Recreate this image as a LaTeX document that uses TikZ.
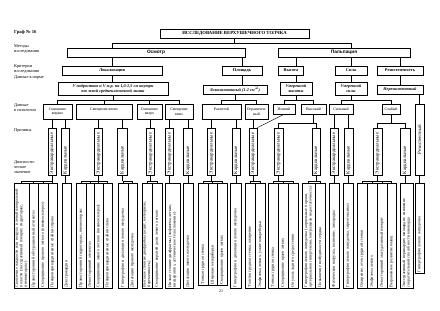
\documentclass[tikz,border=0pt]{standalone}
\usepackage{fontspec}
\setmainfont{Liberation Serif}
\setsansfont{Liberation Sans}
\tikzset{
  titlebox/.style={draw,line width=0.7pt,fill=white,inner sep=0pt,align=center,
    font=\fontsize{4.7}{5.2}\selectfont\bfseries},
  methodbox/.style={titlebox,font=\sffamily\fontsize{4.8}{5.4}\selectfont\bfseries},
  critbox/.style={titlebox,font=\fontsize{4.3}{4.8}\selectfont\bfseries},
  normbox/.style={titlebox,font=\fontsize{4.2}{5}\selectfont\bfseries\itshape},
  pathbox/.style={draw,line width=0.6pt,inner sep=0pt,align=center,
    font=\fontsize{3.9}{4.6}\selectfont},
  causebox/.style={draw,line width=0.6pt,rotate=90,inner sep=1pt,
    text width=45pt,align=left,font=\fontsize{4.9}{5.4}\selectfont},
  diagbox/.style={draw,line width=0.5pt,rotate=90,inner sep=1pt,
    text width=103pt,align=left,font=\fontsize{4.1}{4.5}\selectfont},
  rowlabel/.style={anchor=north west,align=left,inner sep=0pt,
    font=\fontsize{4.3}{5}\selectfont},
  link/.style={line width=0.4pt},
}
\begin{document}
\begin{tikzpicture}[x=1pt,y=-1pt]
  \useasboundingbox (0,0) rectangle (440,311);
  % row captions
  \node[rowlabel,font=\fontsize{4.6}{5}\selectfont\bfseries] (graf) at (14,30.5) {Граф № 16};
  \node[rowlabel] (lmeth) at (14,44.5) {Методы\\исследования};
  \node[rowlabel] (lcrit) at (14,64) {Критерии\\исследования};
  \node[rowlabel] (lnorm) at (14,75.5) {Данные в норме};
  \node[rowlabel] (lpath) at (14,103) {Данные\\в патологии};
  \node[rowlabel] (lcause) at (14,128) {Причины};
  \node[rowlabel] (ldiag) at (14,160) {Диагности-\\ческое\\значение};

  % methods and criteria
  \node[titlebox,minimum width=149pt,minimum height=9pt] (top) at (234.5,33.5) {ИССЛЕДОВАНИЕ ВЕРХУШЕЧНОГО ТОЛЧКА};
  \node[methodbox,minimum width=178pt,minimum height=9pt] (osm) at (156,52.5) {Осмотр};
  \node[methodbox,minimum width=132pt,minimum height=9pt] (palp) at (344,52.5) {Пальпация};
  \node[critbox,minimum width=100pt,minimum height=9pt] (lok) at (112,70.5) {Локализация};
  \node[critbox,minimum width=40pt,minimum height=9pt] (plo) at (242,70.5) {Площадь};
  \node[critbox,minimum width=25pt,minimum height=9pt] (vys) at (291,70.5) {Высота};
  \node[critbox,minimum width=32pt,minimum height=9pt] (sil) at (351,70.5) {Сила};
  \node[critbox,minimum width=46pt,minimum height=9pt] (res) at (400,70.5) {Резистентность};

  % norm
  \node[normbox,minimum width=110pt,minimum height=13pt] (nlok) at (113,88.5) {У подростков и V м.р. на 1,0-1,5 см кнутри\\от левой среднеключичной линии};
  \node[normbox,minimum width=64pt,minimum height=9pt] (nplo) at (235,89.5) {Локализованный (1-2 см$^2$)};
  \node[normbox,minimum width=32pt,minimum height=13pt] (nvys) at (296,88.5) {Умеренной\\высоты};
  \node[normbox,minimum width=32pt,minimum height=13pt] (nsil) at (351,88.5) {Умеренной\\силы};
  \node[normbox,minimum width=46pt,minimum height=9pt] (nres) at (400,89.5) {Нерезистентный};

  % pathology
  \node[pathbox,minimum width=29pt,minimum height=15pt] (pr) at (57.5,111.5) {Смещение\\вправо};
  \node[pathbox,minimum width=56pt,minimum height=15pt] (pl) at (104,111.5) {Смещение влево\\~};
  \node[pathbox,minimum width=25pt,minimum height=15pt] (pu) at (149.5,111.5) {Смещение\\вверх};
  \node[pathbox,minimum width=28pt,minimum height=15pt] (pd) at (179,111.5) {Смещение\\вниз};
  \node[pathbox,minimum width=39pt,minimum height=15pt] (pdif) at (221.5,111.5) {Разлитой\\~};
  \node[pathbox,minimum width=23pt,minimum height=15pt] (plim) at (256.5,111.5) {Ограничен-\\ный};
  \node[pathbox,minimum width=22pt,minimum height=10pt] (plow) at (284,109) {Низкий};
  \node[pathbox,minimum width=25pt,minimum height=10pt] (phigh) at (313.5,109) {Высокий};
  \node[pathbox,minimum width=24pt,minimum height=10pt] (pstr) at (341,109) {Сильный};
  \node[pathbox,minimum width=18pt,minimum height=10pt] (pweak) at (391,109) {Слабый};
  \node[causebox,text width=69pt,align=center,minimum height=9pt] (prez) at (419.5,139.5) {Резистентный};

  % causes
  \node[causebox,minimum height=8pt] (c1) at (52,151.5) {Экстракардиальные};
  \node[causebox,minimum height=8pt] (c2) at (65.5,151.5) {Кардиальные};
  \node[causebox,minimum height=8pt] (c3) at (98.5,151.5) {Экстракардиальные};
  \node[causebox,minimum height=10pt] (c4) at (122.5,151.5) {Кардиальные};
  \node[causebox,minimum height=8pt] (c5) at (150.5,151.5) {Экстракардиальные};
  \node[causebox,minimum height=8pt] (c6) at (169.5,151.5) {Экстракардиальные};
  \node[causebox,minimum height=9pt] (c7) at (188,151.5) {Кардиальные};
  \node[causebox,minimum height=8pt] (c8) at (211.5,151.5) {Экстракардиальные};
  \node[causebox,minimum height=8pt] (c9) at (236,151.5) {Кардиальные};
  \node[causebox,minimum height=8pt] (c10) at (253,151.5) {Экстракардиальные};
  \node[causebox,minimum height=9pt] (c11) at (278.5,151.5) {Экстракардиальные};
  \node[causebox,minimum height=8pt] (c12) at (316,151.5) {Кардиальные};
  \node[causebox,minimum height=8pt] (c13) at (334,151.5) {Экстракардиальные};
  \node[causebox,minimum height=9pt] (c14) at (348.5,151.5) {Кардиальные};
  \node[causebox,minimum height=9pt] (c15) at (377.5,151.5) {Экстракардиальные};
  \node[causebox,minimum height=10pt] (c16) at (405,151.5) {Кардиальные};

  % diagnostic meaning
  \node[diagbox,minimum height=15pt] (d1) at (21.5,235.5) {Скопление жидкости или воздуха в левой плевральной полости (экссудативный плеврит, гидроторакс, пневмоторакс)};
  \node[diagbox,minimum height=9pt] (d2) at (33.5,235.5) {Правосторонний обтурационный ателектаз};
  \node[diagbox,minimum height=10pt] (d3) at (43,235.5) {Сморщивание правого легкого (пневмосклероз)};
  \node[diagbox,minimum height=9pt] (d4) at (52.5,235.5) {Плевроперикардиальные спайки справа};
  \node[diagbox,minimum height=9pt] (d5) at (66.5,235.5) {Декстракардия};
  \node[diagbox,minimum height=10pt] (d6) at (81,235.5) {Правосторонний гидроторакс, пневмоторакс};
  \node[diagbox,minimum height=8pt] (d7) at (90,235.5) {Левосторонний ателектаз};
  \node[diagbox,minimum height=9pt] (d8) at (98.5,235.5) {Сморщивание левого легкого (пневмосклероз)};
  \node[diagbox,minimum height=9pt] (d9) at (107.5,235.5) {Плевроперикардиальные спайки слева};
  \node[diagbox,minimum height=10pt] (d10) at (123,235.5) {Гипертрофия и дилатация левого желудочка};
  \node[diagbox,minimum height=9pt] (d11) at (132.5,235.5) {Дилатация правого желудочка};
  \node[diagbox,minimum height=10pt] (d12) at (147,235.5) {Высокое стояние диафрагмы (асцит, метеоризм, беременность)};
  \node[diagbox,minimum height=10pt] (d13) at (157,235.5) {Сморщивание верхней доли левого легкого};
  \node[diagbox,minimum height=15pt] (d14) at (172.5,235.5) {Низкое стояние диафрагмы (эмфизема легких, висцероптоз, астеническое телосложение)};
  \node[diagbox,minimum height=10pt] (d15) at (188,235.5) {Дилатация левого желудочка};
  \node[diagbox,text width=100pt,minimum height=10pt] (d16) at (203,234) {Тонкая грудная стенка};
  \node[diagbox,text width=100pt,minimum height=9pt] (d17) at (212.5,234) {Широкие межреберья};
  \node[diagbox,text width=100pt,minimum height=10pt] (d18) at (222,234) {Сморщивание краев легких};
  \node[diagbox,minimum height=11pt] (d19) at (235.5,235.5) {Гипертрофия и дилатация левого желудочка};
  \node[diagbox,minimum height=10pt] (d20) at (250,235.5) {Толстая грудная стенка, ожирение};
  \node[diagbox,minimum height=10pt] (d21) at (260,235.5) {Эмфизема легких, узкие межреберья};
  \node[diagbox,minimum height=10pt] (d22) at (273,235.5) {Тонкая грудная стенка};
  \node[diagbox,minimum height=10pt] (d23) at (283,235.5) {Сморщивание краев легких};
  \node[diagbox,minimum height=10pt] (d24) at (293,235.5) {Опухоль заднего средостения};
  \node[diagbox,minimum height=13pt] (d25) at (308.5,235.5) {Гипертрофия левого желудочка (аортальные пороки, артериальная гипертензия, митральная недостаточность)};
  \node[diagbox,minimum height=10pt] (d26) at (320,235.5) {Повышение возбудимости сердца};
  \node[diagbox,minimum height=10pt] (d27) at (334,235.5) {Физическая нагрузка, волнение, лихорадка};
  \node[diagbox,minimum height=10pt] (d28) at (348,235.5) {Гипертрофия левого желудочка, тиреотоксикоз};
  \node[diagbox,minimum height=10pt] (d29) at (362,235.5) {Ожирение, отек грудной стенки};
  \node[diagbox,minimum height=10pt] (d30) at (372,235.5) {Эмфизема легких};
  \node[diagbox,minimum height=10pt] (d31) at (382,235.5) {Левосторонний экссудативный плеврит};
  \node[diagbox,minimum height=9pt] (d32) at (391.5,235.5) {Выраженное развитие мышц};
  \node[diagbox,minimum height=13pt] (d33) at (406.5,235.5) {Экссудативный перикардит, миокардит, снижение сократительной способности миокарда};
  \node[diagbox,text width=88pt,minimum height=9pt] (d34) at (419.5,228) {Гипертрофия левого желудочка};

  \node[inner sep=0pt,font=\fontsize{4}{4}\selectfont] (pagenum) at (221,291) {21};

  % connectors: methods and criteria
  \draw[link] (top.south) -- ++(0,5) coordinate (tb);
  \draw[link] (tb) -| (lok.north |- osm.north);
  \draw[link] (tb) -| (sil.north |- palp.north);
  \draw[link] (lok.north |- osm.south) -- (lok.north);
  \draw[link] (plo.north |- osm.south) -- (plo.north);
  \draw[link] (nvys.north |- palp.south) -- (nvys.north |- vys.north);
  \draw[link] (sil.north |- palp.south) -- (sil.north);
  \draw[link] (res.north |- palp.south) -- (res.north);

  % connectors: norm
  \draw[link] (lok.south) -- (lok.south |- nlok.north);
  \draw[link] (plo.south) -- (plo.south |- nplo.north);
  \draw[link] (nvys.north |- vys.south) -- (nvys.north);
  \draw[link] (sil.south) -- (nsil.north);
  \draw[link] (res.south) -- (nres.north);

  % connectors: pathology
  \draw[link] (nlok.south) -- ++(0,5) coordinate (b1);
  \draw[link] (b1) -| (pr.north);
  \draw[link] (b1) -| (pl.north);
  \draw[link] (b1) -| (pu.north);
  \draw[link] (b1) -| (pd.north);
  \draw[link] (nplo.south) -- ++(0,6) coordinate (b2);
  \draw[link] (b2) -| (pdif.north);
  \draw[link] (b2) -| (plim.north);
  \draw[link] (nvys.south) -- ++(0,5) coordinate (b3);
  \draw[link] (b3) -| (plow.north);
  \draw[link] (b3) -| (phigh.north);
  \draw[link] (nsil.south) -- ++(0,5) coordinate (b4);
  \draw[link] (b4) -| (pstr.north);
  \draw[link] (b4) -| (pweak.north);
  \draw[link] (prez.east |- nres.south) -- (prez.east);

  % connectors: causes
  \draw[link] (c1.east |- pr.south) -- (c1.east);
  \draw[link] (c2.east |- pr.south) -- (c2.east);
  \draw[link] (c3.east |- pl.south) -- (c3.east);
  \draw[link] (c4.east |- pl.south) -- (c4.east);
  \draw[link] (c5.east |- pu.south) -- (c5.east);
  \draw[link] (c6.east |- pd.south) -- (c6.east);
  \draw[link] (c7.east |- pd.south) -- (c7.east);
  \draw[link] (c8.east |- pdif.south) -- (c8.east);
  \draw[link] (c9.east |- pdif.south) -- (c9.east);
  \draw[link] (c10.east |- plim.south) -- (c10.east);
  \draw[link] (plow.south) -- (c10.south east);
  \draw[link] (phigh.south) -- ++(0,9) coordinate (b5);
  \draw[link] (b5) -| (c11.east);
  \draw[link] (b5) -| (c12.east);
  \draw[link] (c13.east |- pstr.south) -- (c13.east);
  \draw[link] (c14.east |- pstr.south) -- (c14.east);
  \draw[link] (pweak.south) -- ++(0,9) coordinate (b6);
  \draw[link] (b6) -| (c15.east);
  \draw[link] (b6) -| (c16.east);

  % connectors: diagnostic meaning
  \draw[link] (c1.west) -- ++(0,6) coordinate (e1);
  \draw[link] (e1) -| (d1.east);
  \draw[link] (e1) -| (d2.east);
  \draw[link] (e1) -| (d3.east);
  \draw[link] (e1) -| (d4.east);
  \draw[link] (c2.west) -- (c2.west |- d5.east);
  \draw[link] (c3.west) -- ++(0,6) coordinate (e3);
  \draw[link] (e3) -| (d6.east);
  \draw[link] (e3) -| (d7.east);
  \draw[link] (e3) -| (d8.east);
  \draw[link] (e3) -| (d9.east);
  \draw[link] (c4.west) -- ++(0,6) coordinate (e4);
  \draw[link] (e4) -| (d10.east);
  \draw[link] (e4) -| (d11.east);
  \draw[link] (c5.west) -- ++(0,6) coordinate (e5);
  \draw[link] (e5) -| (d12.east);
  \draw[link] (e5) -| (d13.east);
  \draw[link] (c6.west) -- (c6.west |- d14.east);
  \draw[link] (c7.west) -- (c7.west |- d15.east);
  \draw[link] (c8.west) -- ++(0,6) coordinate (e8);
  \draw[link] (e8) -| (d16.east);
  \draw[link] (e8) -| (d17.east);
  \draw[link] (e8) -| (d18.east);
  \draw[link] (c9.west) -- (c9.west |- d19.east);
  \draw[link] (c10.west) -- ++(0,6) coordinate (e10);
  \draw[link] (e10) -| (d20.east);
  \draw[link] (e10) -| (d21.east);
  \draw[link] (c11.west) -- ++(0,6) coordinate (e11);
  \draw[link] (e11) -| (d22.east);
  \draw[link] (e11) -| (d23.east);
  \draw[link] (e11) -| (d24.east);
  \draw[link] (c12.west) -- ++(0,6) coordinate (e12);
  \draw[link] (e12) -| (d25.east);
  \draw[link] (e12) -| (d26.east);
  \draw[link] (c13.west) -- (c13.west |- d27.east);
  \draw[link] (c14.west) -- (c14.west |- d28.east);
  \draw[link] (c15.west) -- ++(0,6) coordinate (e15);
  \draw[link] (e15) -| (d29.east);
  \draw[link] (e15) -| (d30.east);
  \draw[link] (e15) -| (d31.east);
  \draw[link] (e15) -| (d32.east);
  \draw[link] (c16.west) -- (c16.west |- d33.east);
  \draw[link] (prez.west) -- (prez.west |- d34.east);
\end{tikzpicture}
\end{document}
